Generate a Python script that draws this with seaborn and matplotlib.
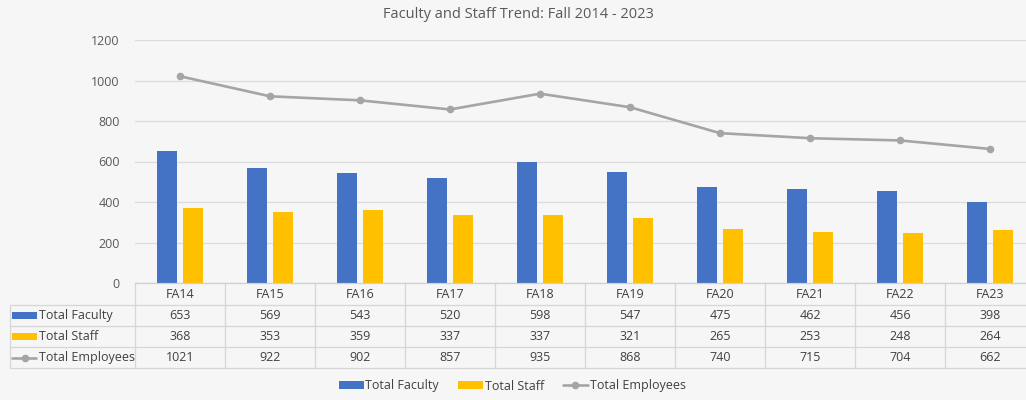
import numpy as np
import pandas as pd
import matplotlib
matplotlib.use("Agg")
import matplotlib.pyplot as plt
import matplotlib.transforms as mtransforms
from matplotlib.lines import Line2D
from matplotlib.patches import Rectangle
import seaborn as sns

# --- data ---
terms = ["FA14", "FA15", "FA16", "FA17", "FA18", "FA19", "FA20", "FA21", "FA22", "FA23"]
faculty = [653, 569, 543, 520, 598, 547, 475, 462, 456, 398]
staff = [368, 353, 359, 337, 337, 321, 265, 253, 248, 264]
employees = [1021, 922, 902, 857, 935, 868, 740, 715, 704, 662]

series_names = ["Total Faculty", "Total Staff", "Total Employees"]
colors = {"Total Faculty": "#4472C4", "Total Staff": "#FFC000", "Total Employees": "#A5A5A5"}

bars_df = pd.DataFrame({
    "term": terms * 2,
    "value": faculty + staff,
    "series": ["Total Faculty"] * len(terms) + ["Total Staff"] * len(terms),
})

sns.set_theme(style="white")
plt.rcParams["font.family"] = ["Open Sans", "DejaVu Sans"]

W, H = 1026, 400
bg = "#f6f6f6"
fig = plt.figure(figsize=(W / 100, H / 100), dpi=100, facecolor=bg)


def fx(px):
    return px / W


def fy(py):
    return 1 - py / H


ax = fig.add_axes([fx(135), fy(283), 900 / W, 243 / H])
ax.set_facecolor("none")

sns.barplot(data=bars_df, x="term", y="value", hue="series", order=terms,
            palette=colors, width=0.578, gap=0.23, ax=ax, saturation=1,
            linewidth=0, edgecolor="none")
sns.lineplot(x=np.arange(len(terms)), y=employees, color=colors["Total Employees"],
             linewidth=1.9, marker="o", markersize=5.5, markeredgewidth=0,
             label="Total Employees", ax=ax)

ax.set_xlim(-0.5, 9.5)
ax.set_ylim(0, 1200)
ax.set_yticks(range(0, 1201, 200))
ax.yaxis.grid(True, color="#dcdcdc", linewidth=0.9)
ax.set_axisbelow(True)
ax.set_xticks([])
ax.set_xlabel("")
ax.set_ylabel("")
ax.tick_params(axis="y", length=0, pad=11, labelsize=9, labelcolor="#595959")
for s in ["top", "right", "left"]:
    ax.spines[s].set_visible(False)
ax.spines["bottom"].set_color("#d0d0d0")
ax.spines["bottom"].set_linewidth(0.9)

handles, labels = ax.get_legend_handles_labels()
ax.get_legend().remove()

fig.text(0.505, fy(14), "Faculty and Staff Trend: Fall 2014 - 2023", ha="center", va="center",
         fontsize=10.5, color="#595959")

# --- data table ---
blend = mtransforms.blended_transform_factory(ax.transData, fig.transFigure)
line_c = "#d6d6d6"
row_y = [283, 305, 326, 347, 368]
for y in row_y[1:]:
    fig.add_artist(Line2D([fx(10), 1], [fy(y), fy(y)], color=line_c, lw=0.9))
fig.add_artist(Line2D([fx(10), fx(10)], [fy(305), fy(368)], color=line_c, lw=0.9))
for i in range(len(terms) + 1):
    ax.plot([i - 0.5, i - 0.5], [fy(283), fy(368)], transform=blend, color=line_c,
            lw=0.9, clip_on=False)

txt_c = "#404040"
rows = [faculty, staff, employees]
for i, t in enumerate(terms):
    ax.text(i, fy(294), t, transform=blend, ha="center", va="center", fontsize=9, color=txt_c)
    for r, vals in enumerate(rows):
        yc = (row_y[r + 1] + row_y[r + 2]) / 2
        ax.text(i, fy(yc), str(vals[i]), transform=blend, ha="center", va="center",
                fontsize=9, color=txt_c)

for r, name in enumerate(series_names):
    yc = (row_y[r + 1] + row_y[r + 2]) / 2
    if r < 2:
        fig.add_artist(Rectangle((fx(12), fy(yc + 3.5)), 25 / W, 7 / H,
                                 transform=fig.transFigure, color=colors[name], lw=0))
    else:
        fig.add_artist(Line2D([fx(11), fx(24.5), fx(37)], [fy(yc)] * 3, color=colors[name],
                              lw=1.9, marker="o", markevery=[1], markersize=5.5,
                              markeredgewidth=0, solid_capstyle="butt"))
    fig.text(fx(39), fy(yc), name, ha="left", va="center", fontsize=9, color=txt_c)

leg = fig.legend(handles, labels, loc="center", bbox_to_anchor=(fx(512), fy(386)), ncol=3,
                 frameon=False, fontsize=9, handlelength=2.0, handleheight=0.55,
                 columnspacing=1.5, handletextpad=0.15, labelcolor=txt_c)

fig.savefig("out.png", dpi=100, facecolor=bg)
